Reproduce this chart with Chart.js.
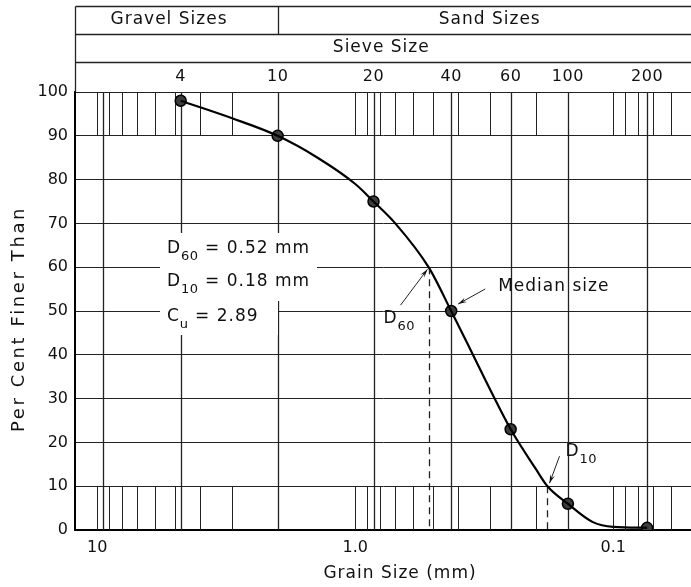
<!DOCTYPE html>
<html><head><meta charset="utf-8">
<script src="https://cdn.jsdelivr.net/npm/chart.js@4/dist/chart.umd.min.js"></script>
<style>html,body{margin:0;padding:0;background:#fff}</style>
</head><body>
<canvas id="c" width="691" height="587"></canvas>
<script>
// ---- data ----
const sieveNumbers = ['4', '10', '20', '40', '60', '100', '200'];
const sieveSize = [4.75, 2.0, 0.85, 0.425, 0.25, 0.15, 0.074];   // mm
const pctFiner = [98, 90, 75, 50, 23, 6, 0.5];                    // measured points
const curveSize = [4.75, 3.0, 2.0, 1.4, 1.0, 0.85, 0.7, 0.52, 0.425, 0.35, 0.3, 0.25, 0.2, 0.18, 0.15, 0.12, 0.1, 0.074];
const curvePct  = [98, 94, 90, 85, 79, 75, 70, 60, 50, 40, 32, 23, 14, 10, 6, 1.8, 0.7, 0.5];
const xTickValues = [10, 1, 0.1];
const xTickLabels = ['10', '1.0', '0.1'];
const fullGridSizes = [9.5, 4.75, 2.0, 0.85, 0.425, 0.25, 0.15, 0.074];
const bandGridSizes = [10, 9, 8, 7, 6, 5, 4, 3, 2, 1, 0.9, 0.8, 0.7, 0.6, 0.5, 0.4, 0.3, 0.2, 0.1, 0.09, 0.08, 0.07, 0.06];
const gravelSandBoundary = 2.0;
const D60 = 0.52, D10 = 0.18, Cu = '2.89';

const FONT = '"DejaVu Sans", sans-serif';
const INK = '#111';

function line(ctx, x1, y1, x2, y2) { ctx.beginPath(); ctx.moveTo(x1, y1); ctx.lineTo(x2, y2); ctx.stroke(); }
function arrow(ctx, x1, y1, x2, y2) {
  line(ctx, x1, y1, x2, y2);
  const a = Math.atan2(y2 - y1, x2 - x1), L = 9, w = 0.28;
  ctx.beginPath();
  ctx.moveTo(x2, y2);
  ctx.lineTo(x2 - L * Math.cos(a - w), y2 - L * Math.sin(a - w));
  ctx.lineTo(x2 - L * 0.6 * Math.cos(a), y2 - L * 0.6 * Math.sin(a));
  ctx.lineTo(x2 - L * Math.cos(a + w), y2 - L * Math.sin(a + w));
  ctx.closePath(); ctx.fill();
}
function words(ctx, text, x, y, align, size, spacing) {
  ctx.font = (size || 17) + 'px ' + FONT;
  ctx.letterSpacing = (spacing === undefined ? 1 : spacing) + 'px';
  ctx.textAlign = align || 'left'; ctx.textBaseline = 'middle';
  ctx.fillText(text, x, y);
  const w = ctx.measureText(text).width;
  ctx.letterSpacing = '0px';
  return w;
}
function subText(ctx, main, sub, rest, x, y) {
  let cx = x + words(ctx, main, x, y);
  ctx.font = '13px ' + FONT; ctx.letterSpacing = '0.5px'; ctx.textAlign = 'left';
  ctx.fillText(sub, cx, y + 8);
  cx += ctx.measureText(sub).width;
  ctx.letterSpacing = '0px';
  if (rest) words(ctx, rest, cx, y);
}

const overlay = {
  id: 'overlay',
  beforeDatasetsDraw(chart) {
    const ctx = chart.ctx, xs = chart.scales.x, ys = chart.scales.y, a = chart.chartArea;
    ctx.save();
    ctx.strokeStyle = '#222'; ctx.fillStyle = INK; ctx.lineWidth = 1;
    // log-cycle lines in the 90-100 and 0-10 bands
    bandGridSizes.forEach(v => {
      const x = Math.round(xs.getPixelForValue(v)) + 0.5;
      line(ctx, x, ys.getPixelForValue(100), x, ys.getPixelForValue(90));
      line(ctx, x, ys.getPixelForValue(10), x, ys.getPixelForValue(0));
    });
    // full-height sieve lines
    ctx.lineWidth = 1.3;
    fullGridSizes.forEach(v => {
      const x = Math.round(xs.getPixelForValue(v)) + 0.5;
      line(ctx, x, a.top, x, a.bottom);
    });
    // header table
    const hTop = 6.5, r1 = 34.5, r2 = 62.5, L = a.left + 0.5, R = chart.width;
    line(ctx, L, hTop, R, hTop); line(ctx, L, r1, R, r1); line(ctx, L, r2, R, r2);
    line(ctx, L, hTop, L, a.top);
    const xb = Math.round(xs.getPixelForValue(gravelSandBoundary)) + 0.5;
    line(ctx, xb, hTop, xb, r1);
    words(ctx, 'Gravel Sizes', (L + xb) / 2 - 8, 20, 'center');
    words(ctx, 'Sand Sizes', (xb + R) / 2 + 5, 20, 'center');
    words(ctx, 'Sieve Size', (L + R) / 2 - 2, 48, 'center');
    sieveNumbers.forEach((s, i) => words(ctx, s, xs.getPixelForValue(sieveSize[i]), 77, 'center', 16, 0.5));
    // dashed D60 / D10 lines
    ctx.setLineDash([7, 5]); ctx.lineWidth = 1.3;
    const x60 = Math.round(xs.getPixelForValue(D60)) + 0.5;
    line(ctx, x60, ys.getPixelForValue(60), x60, a.bottom);
    const x10 = Math.round(xs.getPixelForValue(D10)) + 0.5;
    line(ctx, x10, ys.getPixelForValue(10), x10, a.bottom);
    ctx.setLineDash([]);
    // white backing of the D60/D10/Cu text block
    ctx.fillStyle = '#fff';
    ctx.fillRect(160, 233, 157, 68);
    ctx.fillRect(160, 300, 118, 35);
    ctx.fillStyle = INK;
    subText(ctx, 'D', '60', ' = 0.52 mm', 167, 249);
    subText(ctx, 'D', '10', ' = 0.18 mm', 167, 282);
    subText(ctx, 'C', 'u', ' = ' + Cu, 167, 317);
    // D60 arrow & label
    const y60 = ys.getPixelForValue(60);
    ctx.lineWidth = 1;
    arrow(ctx, x60 - 29, y60 + 38, x60 - 2, y60 + 2);
    subText(ctx, 'D', '60', '', x60 - 46, y60 + 51);
    // Median size arrow & label
    const xm = xs.getPixelForValue(sieveSize[3]), ym = ys.getPixelForValue(pctFiner[3]);
    arrow(ctx, xm + 34, ym - 22, xm + 7, ym - 7);
    words(ctx, 'Median size', xm + 47, ym - 24);
    // D10 arrow & label
    const y10 = ys.getPixelForValue(10);
    arrow(ctx, x10 + 12, y10 - 30, x10 + 2, y10 - 3);
    subText(ctx, 'D', '10', '', x10 + 18, y10 - 35);
    // axis titles
    ctx.save();
    ctx.translate(19, (a.top + a.bottom) / 2 + 8);
    ctx.rotate(-Math.PI / 2);
    words(ctx, 'Per Cent Finer Than', 0, 0, 'center', 18, 2.6);
    ctx.restore();
    words(ctx, 'Grain Size (mm)', 400, 574, 'center', 17, 1);
    ctx.restore();
  }
};

new Chart(document.getElementById('c'), {
  type: 'scatter',
  data: {
    datasets: [
      {
        data: curveSize.map((s, i) => ({ x: s, y: curvePct[i] })),
        showLine: true, borderColor: '#000', borderWidth: 2.2, pointRadius: 0,
        cubicInterpolationMode: 'monotone', fill: false
      },
      {
        data: sieveSize.map((s, i) => ({ x: s, y: pctFiner[i] })),
        showLine: false, pointRadius: 5.5, pointBackgroundColor: '#3c3c3c',
        pointBorderColor: '#000', pointBorderWidth: 1.5
      }
    ]
  },
  options: {
    responsive: false, animation: false, devicePixelRatio: 1,
    layout: { autoPadding: false, padding: { top: 92, left: 0, right: 0, bottom: 0 } },
    plugins: { legend: { display: false }, tooltip: { enabled: false } },
    scales: {
      x: {
        type: 'logarithmic', reverse: true, min: 0.05, max: 12.2,
        afterBuildTicks: s => { s.ticks = xTickValues.map(v => ({ value: v })); },
        afterFit: s => { s.height = 57; s.paddingLeft = 0; s.paddingRight = 0; },
        ticks: {
          autoSkip: false, maxRotation: 0, padding: 8, color: INK,
          font: { family: FONT, size: 16 },
          callback: v => { const i = xTickValues.indexOf(v); return i >= 0 ? xTickLabels[i] : ''; }
        },
        grid: { display: false, drawTicks: false },
        border: { display: true, color: '#000', width: 2 }
      },
      y: {
        min: 0, max: 100,
        afterFit: s => { s.width = 75; s.paddingTop = 0; s.paddingBottom = 0; },
        ticks: { stepSize: 10, padding: 7, color: INK, font: { family: FONT, size: 16 } },
        grid: { color: '#222', lineWidth: 1, drawTicks: false },
        border: { display: true, color: '#000', width: 2 }
      }
    }
  },
  plugins: [overlay]
});
</script>
</body></html>
